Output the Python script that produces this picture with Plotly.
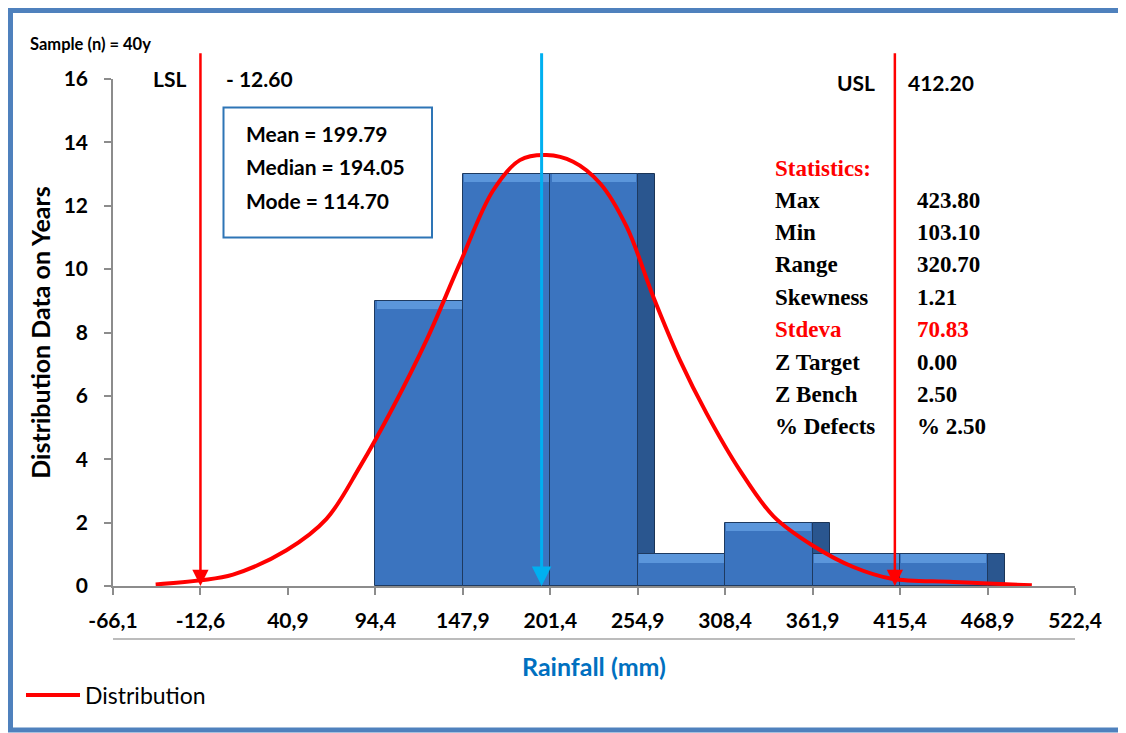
import plotly.graph_objects as go

# ---------------- data ----------------
bin_left = [94.4, 147.9, 201.4, 254.9, 308.4, 361.9, 415.4]
counts = [9, 13, 13, 1, 2, 1, 1]
bin_width = 53.5

tick_vals = [-66.1, -12.6, 40.9, 94.4, 147.9, 201.4, 254.9, 308.4, 361.9, 415.4, 468.9, 522.4]
tick_text = ["-66,1", "-12,6", "40,9", "94,4", "147,9", "201,4", "254,9", "308,4",
             "361,9", "415,4", "468,9", "522,4"]
y_ticks = [0, 2, 4, 6, 8, 10, 12, 14, 16]

curve_x = [-40, -12.6, 7.3, 40.0, 64.5, 84.9, 105.3, 125.7, 146.1, 166.5, 182.8,
           199.1, 215.4, 231.8, 248.1, 264.4, 280.7, 297.1, 317.4, 338.0, 361.9,
           386.8, 410.3, 448, 496]
curve_y = [0.05, 0.18, 0.36, 1.13, 2.12, 3.76, 5.65, 7.76, 10.18, 12.49, 13.44,
           13.6, 13.39, 12.71, 11.34, 9.13, 7.13, 5.44, 3.65, 2.2, 1.28,
           0.6, 0.23, 0.13, 0.02]

LSL = -12.6
USL = 412.2
center_line = 196.1
line_top = 16.86

box_lines = ["Mean = 199.79", "Median = 194.05", "Mode = 114.70"]
stat_names = ["Max", "Min", "Range", "Skewness", "Stdeva", "Z Target", "Z Bench", "% Defects"]
stat_values = ["423.80", "103.10", "320.70", "1.21", "70.83", "0.00", "2.50", "% 2.50"]
stat_red = [False, False, False, False, True, False, False, False]

# ---------------- layout geometry ----------------
OFF = 8  # page body margin
FW, FH = 1118, 725
ML, MR, MT, MB = 105, 51, 71, 147
PW, PH = FW - ML - MR, FH - MT - MB


def px2x(sx):
    return (sx - OFF - ML) / PW


def py2y(sy):
    return (FH - MB - (sy - OFF)) / PH


depth = 10.8
fig = go.Figure()

# 3D side faces (drawn first, covered by next bar)
fig.add_trace(go.Bar(
    x=[l + bin_width + depth / 2 for l in bin_left], y=counts, width=depth,
    marker=dict(color="#2a568f", line=dict(color="#1b3456", width=1)),
    showlegend=False, hoverinfo="skip"))
# main bars
fig.add_trace(go.Bar(
    x=[l + bin_width / 2 for l in bin_left], y=counts, width=bin_width,
    marker=dict(color="#3b74bf", line=dict(color="#1e3a60", width=1)),
    showlegend=False, name="Frequency"))
# top bevel highlight
bev = 0.26
fig.add_trace(go.Bar(
    x=[l + bin_width / 2 for l in bin_left], y=[bev] * len(counts),
    base=[c - bev for c in counts], width=bin_width * 0.97,
    marker=dict(color="#5b96db", line=dict(width=0)),
    showlegend=False, hoverinfo="skip"))

# distribution curve
fig.add_trace(go.Scatter(
    x=curve_x, y=curve_y, mode="lines", name="Distribution",
    line=dict(color="#FF0000", width=4, shape="spline", smoothing=1.0)))

annotations = []
# vertical lines with arrowheads
for xv, col, w in [(LSL, "#FF0000", 2.5), (USL, "#FF0000", 2.5), (center_line, "#00B0F0", 3)]:
    annotations.append(dict(
        x=xv, y=0, ax=xv, ay=line_top, xref="x", yref="y", axref="x", ayref="y",
        text="", showarrow=True, arrowhead=2, arrowsize=1.3, arrowwidth=w,
        arrowcolor=col, standoff=0))

bold_font = dict(family="Lato", size=21, color="black", weight="bold")

annotations += [
    dict(text="Sample (n) = 40y", x=px2x(28), y=py2y(44), xref="paper", yref="paper",
         xanchor="left", yanchor="middle", showarrow=False,
         font=dict(family="Lato", size=16.5, color="black", weight="bold")),
    dict(text="LSL", x=px2x(188), y=py2y(78), xref="paper", yref="paper",
         xanchor="right", yanchor="middle", showarrow=False, font=bold_font),
    dict(text="- 12.60", x=px2x(224), y=py2y(78), xref="paper", yref="paper",
         xanchor="left", yanchor="middle", showarrow=False, font=bold_font),
    dict(text="USL", x=px2x(877), y=py2y(82), xref="paper", yref="paper",
         xanchor="right", yanchor="middle", showarrow=False, font=bold_font),
    dict(text="412.20", x=px2x(906), y=py2y(82), xref="paper", yref="paper",
         xanchor="left", yanchor="middle", showarrow=False, font=bold_font),
]
for i, t in enumerate(box_lines):
    annotations.append(dict(text=t, x=px2x(244), y=py2y(133.5 + 33.3 * i),
                            xref="paper", yref="paper", xanchor="left", yanchor="middle",
                            showarrow=False, font=bold_font))

serif = "Liberation Serif"
annotations.append(dict(text="Statistics:", x=px2x(773), y=py2y(168), xref="paper",
                        yref="paper", xanchor="left", yanchor="middle", showarrow=False,
                        font=dict(family=serif, size=23, color="#FF0000", weight="bold")))
for i, (n, v, r) in enumerate(zip(stat_names, stat_values, stat_red)):
    yy = py2y(200 + 32.4 * i)
    col = "#FF0000" if r else "black"
    annotations.append(dict(text=n, x=px2x(773), y=yy, xref="paper", yref="paper",
                            xanchor="left", yanchor="middle", showarrow=False,
                            font=dict(family=serif, size=23, color=col, weight="bold")))
    annotations.append(dict(text=v, x=px2x(915), y=yy, xref="paper", yref="paper",
                            xanchor="left", yanchor="middle", showarrow=False,
                            font=dict(family=serif, size=23, color=col, weight="bold")))

shapes = [
    # stats box
    dict(type="rect", xref="paper", yref="paper", x0=px2x(223.5), x1=px2x(432),
         y0=py2y(237.5), y1=py2y(107.5), line=dict(color="#2E75B6", width=2)),
    # second axis line below tick labels
    dict(type="line", xref="paper", yref="paper", x0=0, x1=1, y0=py2y(639), y1=py2y(639),
         line=dict(color="#A6A6A6", width=1.5)),
    # legend line extension
    dict(type="line", xref="paper", yref="paper", x0=px2x(26), x1=px2x(80),
         y0=py2y(695), y1=py2y(695), line=dict(color="#FF0000", width=4)),
    # outer frame
    dict(type="line", xref="paper", yref="paper", x0=px2x(6), x1=px2x(1122),
         y0=py2y(10), y1=py2y(10), line=dict(color="#4F81BD", width=6)),
    dict(type="line", xref="paper", yref="paper", x0=px2x(10), x1=px2x(10),
         y0=py2y(7), y1=py2y(731), line=dict(color="#4F81BD", width=6)),
    dict(type="line", xref="paper", yref="paper", x0=px2x(7), x1=px2x(1123),
         y0=py2y(730), y1=py2y(730), line=dict(color="#4F81BD", width=5)),
    dict(type="line", xref="paper", yref="paper", x0=px2x(1122.5), x1=px2x(1122.5),
         y0=py2y(12), y1=py2y(728), line=dict(color="#B8CCE4", width=1.5)),
]

fig.update_layout(
    width=FW, height=FH, margin=dict(l=ML, r=MR, t=MT, b=MB),
    paper_bgcolor="white", plot_bgcolor="white", barmode="overlay", bargap=0,
    annotations=annotations, shapes=shapes,
    legend=dict(x=px2x(25), y=py2y(695), xanchor="left", yanchor="middle",
                orientation="h", bgcolor="rgba(0,0,0,0)", itemwidth=50,
                font=dict(family="Lato", size=23, color="black")),
    xaxis=dict(range=[tick_vals[0], tick_vals[-1]], tickmode="array", tickvals=tick_vals,
               ticktext=tick_text, showgrid=False, zeroline=False, showline=True,
               linecolor="#8C8C8C", linewidth=1.5, ticks="outside", ticklen=7,
               tickcolor="#8C8C8C", tickwidth=1.5, ticklabelstandoff=8,
               tickfont=dict(family="Lato", size=21, color="black", weight="bold"),
               title=dict(text="Rainfall (mm)", standoff=28,
                          font=dict(family="Lato", size=25, color="#0070C0", weight="bold"))),
    yaxis=dict(range=[0, 16], tickmode="array", tickvals=y_ticks, showgrid=False,
               zeroline=False, showline=True, linecolor="#8C8C8C", linewidth=1.5,
               ticks="outside", ticklen=7, tickcolor="#8C8C8C", tickwidth=1.5,
               ticklabelstandoff=12,
               tickfont=dict(family="Lato", size=21, color="black", weight="bold"),
               title=dict(text="Distribution Data on Years", standoff=6,
                          font=dict(family="Lato", size=25, color="black", weight="bold"))),
)

fig.write_html("out.html")
